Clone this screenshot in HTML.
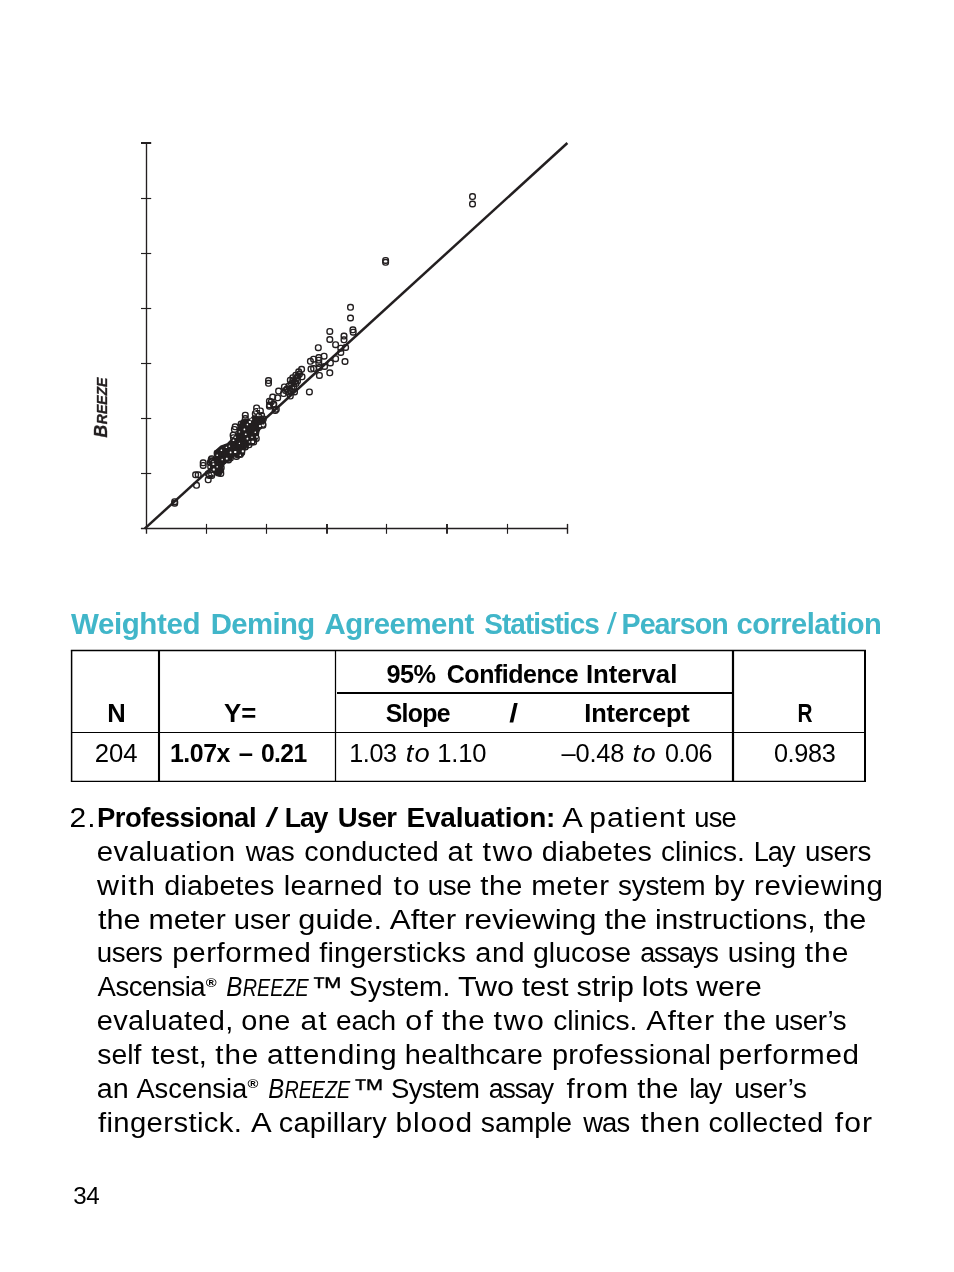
<!DOCTYPE html>
<html lang="en"><head><meta charset="utf-8"><title>Page 34</title>
<style>
html,body{margin:0;padding:0;background:#fff}
body{width:954px;height:1272px;overflow:hidden}
svg{display:block;font-family:"Liberation Sans",sans-serif;fill:#000}
text{white-space:pre}
</style></head><body>
<svg width="954" height="1272" viewBox="0 0 954 1272">
<rect width="954" height="1272" fill="#fff"/>
<!-- chart -->
<g stroke="#231f20" fill="none" stroke-width="1.15">
<path d="M146.5 143.0V533.8M140.9 528.5H567.5" stroke-width="1.35"/>
<path d="M206.5 523.9V533.8"/>
<path d="M266.5 523.9V533.8"/>
<path d="M327.0 523.9V533.8" stroke-width="1.9"/>
<path d="M386.5 523.9V533.8"/>
<path d="M447.0 523.9V533.8" stroke-width="1.9"/>
<path d="M507.5 523.9V533.8"/>
<path d="M567.5 523.9V533.8" stroke-width="1.4"/>
<path d="M141.0 473.5H151.2"/>
<path d="M141.0 418.5H151.2"/>
<path d="M141.0 363.5H151.2"/>
<path d="M141.0 308.5H151.2"/>
<path d="M141.0 253.5H151.2"/>
<path d="M141.0 198.5H151.2"/>
<path d="M141.0 143.0H151.2" stroke-width="2"/>
<path d="M144.7 528.7L567.4 143.0" stroke-width="2.5"/>
</g>
<path d="M210.1 462.1L215.1 457.9L215.1 451.2L221.0 446.1L227.7 443.6L231.9 439.4L236.9 433.5L239.4 425.2L241.9 420.1L249.5 419.3L253.7 416.8L258.7 417.6L263.7 418.4L264.6 421.8L260.4 427.7L258.7 431.9L257.9 437.7L253.7 444.4L247.0 445.3L244.4 450.3L243.6 454.5L238.6 457.9L233.5 455.3L231.0 460.4L225.2 462.1L222.6 467.1L223.5 471.3L219.3 475.5L214.3 473.8L210.9 468.8Z" fill="#231f20" stroke="#231f20" stroke-width="1.5" stroke-linejoin="round"/>
<g stroke="#231f20" fill="none" stroke-width="1.4">
<rect x="469.7" y="193.8" width="5.6" height="5.6" rx="2.3"/>
<rect x="469.7" y="201.2" width="5.6" height="5.6" rx="2.3"/>
<rect x="382.8" y="257.6" width="5.6" height="5.6" rx="2.3"/>
<rect x="382.8" y="259.5" width="5.6" height="5.6" rx="2.3"/>
<rect x="347.7" y="304.5" width="5.6" height="5.6" rx="2.3"/>
<rect x="347.7" y="315.2" width="5.6" height="5.6" rx="2.3"/>
<rect x="350.1" y="327.0" width="5.6" height="5.6" rx="2.3"/>
<rect x="350.4" y="329.4" width="5.6" height="5.6" rx="2.3"/>
<rect x="327.0" y="328.6" width="5.6" height="5.6" rx="2.3"/>
<rect x="327.0" y="336.7" width="5.6" height="5.6" rx="2.3"/>
<rect x="341.2" y="333.3" width="5.6" height="5.6" rx="2.3"/>
<rect x="341.2" y="337.0" width="5.6" height="5.6" rx="2.3"/>
<rect x="332.8" y="341.9" width="5.6" height="5.6" rx="2.3"/>
<rect x="338.0" y="345.4" width="5.6" height="5.6" rx="2.3"/>
<rect x="342.8" y="344.6" width="5.6" height="5.6" rx="2.3"/>
<rect x="338.0" y="349.6" width="5.6" height="5.6" rx="2.3"/>
<rect x="315.5" y="344.9" width="5.6" height="5.6" rx="2.3"/>
<rect x="342.2" y="358.7" width="5.6" height="5.6" rx="2.3"/>
<rect x="332.8" y="355.9" width="5.6" height="5.6" rx="2.3"/>
<rect x="321.3" y="353.4" width="5.6" height="5.6" rx="2.3"/>
<rect x="316.0" y="354.8" width="5.6" height="5.6" rx="2.3"/>
<rect x="316.0" y="357.4" width="5.6" height="5.6" rx="2.3"/>
<rect x="316.0" y="360.6" width="5.6" height="5.6" rx="2.3"/>
<rect x="310.8" y="356.4" width="5.6" height="5.6" rx="2.3"/>
<rect x="307.6" y="358.5" width="5.6" height="5.6" rx="2.3"/>
<rect x="327.6" y="360.1" width="5.6" height="5.6" rx="2.3"/>
<rect x="321.8" y="363.7" width="5.6" height="5.6" rx="2.3"/>
<rect x="308.2" y="366.3" width="5.6" height="5.6" rx="2.3"/>
<rect x="310.8" y="365.8" width="5.6" height="5.6" rx="2.3"/>
<rect x="316.6" y="364.8" width="5.6" height="5.6" rx="2.3"/>
<rect x="327.0" y="370.0" width="5.6" height="5.6" rx="2.3"/>
<rect x="316.6" y="372.6" width="5.6" height="5.6" rx="2.3"/>
<rect x="265.7" y="377.8" width="5.6" height="5.6" rx="2.3"/>
<rect x="265.7" y="380.5" width="5.6" height="5.6" rx="2.3"/>
<rect x="306.6" y="389.1" width="5.6" height="5.6" rx="2.3"/>
<rect x="298.8" y="366.5" width="5.6" height="5.6" rx="2.3"/>
<rect x="295.9" y="369.0" width="5.6" height="5.6" rx="2.3"/>
<rect x="293.0" y="372.4" width="5.6" height="5.6" rx="2.3"/>
<rect x="290.0" y="374.9" width="5.6" height="5.6" rx="2.3"/>
<rect x="287.5" y="377.4" width="5.6" height="5.6" rx="2.3"/>
<rect x="291.7" y="379.1" width="5.6" height="5.6" rx="2.3"/>
<rect x="299.2" y="374.0" width="5.6" height="5.6" rx="2.3"/>
<rect x="290.9" y="384.1" width="5.6" height="5.6" rx="2.3"/>
<rect x="281.6" y="384.1" width="5.6" height="5.6" rx="2.3"/>
<rect x="287.5" y="387.5" width="5.6" height="5.6" rx="2.3"/>
<rect x="291.7" y="389.1" width="5.6" height="5.6" rx="2.3"/>
<rect x="275.8" y="388.3" width="5.6" height="5.6" rx="2.3"/>
<rect x="280.8" y="390.8" width="5.6" height="5.6" rx="2.3"/>
<rect x="287.5" y="393.3" width="5.6" height="5.6" rx="2.3"/>
<rect x="269.9" y="394.2" width="5.6" height="5.6" rx="2.3"/>
<rect x="274.9" y="395.0" width="5.6" height="5.6" rx="2.3"/>
<rect x="266.6" y="398.4" width="5.6" height="5.6" rx="2.3"/>
<rect x="266.6" y="403.4" width="5.6" height="5.6" rx="2.3"/>
<rect x="270.7" y="401.7" width="5.6" height="5.6" rx="2.3"/>
<rect x="272.4" y="407.6" width="5.6" height="5.6" rx="2.3"/>
<rect x="293.7" y="375.7" width="5.6" height="5.6" rx="2.3"/>
<rect x="295.2" y="373.2" width="5.6" height="5.6" rx="2.3"/>
<rect x="288.7" y="380.7" width="5.6" height="5.6" rx="2.3"/>
<rect x="286.2" y="383.2" width="5.6" height="5.6" rx="2.3"/>
<rect x="284.2" y="386.2" width="5.6" height="5.6" rx="2.3"/>
<rect x="290.2" y="378.2" width="5.6" height="5.6" rx="2.3"/>
<rect x="296.7" y="371.2" width="5.6" height="5.6" rx="2.3"/>
<rect x="293.2" y="380.7" width="5.6" height="5.6" rx="2.3"/>
<rect x="289.2" y="385.7" width="5.6" height="5.6" rx="2.3"/>
<rect x="285.2" y="389.2" width="5.6" height="5.6" rx="2.3"/>
<rect x="282.7" y="387.7" width="5.6" height="5.6" rx="2.3"/>
<rect x="294.7" y="378.2" width="5.6" height="5.6" rx="2.3"/>
<rect x="171.9" y="498.9" width="5.6" height="5.6" rx="2.3"/>
<rect x="171.9" y="500.4" width="5.6" height="5.6" rx="2.3"/>
<rect x="193.7" y="482.5" width="5.6" height="5.6" rx="2.3"/>
<rect x="192.8" y="472.0" width="5.6" height="5.6" rx="2.3"/>
<rect x="195.4" y="472.0" width="5.6" height="5.6" rx="2.3"/>
<rect x="200.4" y="460.0" width="5.6" height="5.6" rx="2.3"/>
<rect x="200.4" y="462.6" width="5.6" height="5.6" rx="2.3"/>
<rect x="208.4" y="456.9" width="5.6" height="5.6" rx="2.3"/>
<rect x="205.4" y="477.0" width="5.6" height="5.6" rx="2.3"/>
<rect x="206.7" y="472.8" width="5.6" height="5.6" rx="2.3"/>
<rect x="209.2" y="470.7" width="5.6" height="5.6" rx="2.3"/>
<rect x="242.5" y="412.4" width="5.6" height="5.6" rx="2.3"/>
<rect x="242.5" y="415.7" width="5.6" height="5.6" rx="2.3"/>
<rect x="253.8" y="405.1" width="5.6" height="5.6" rx="2.3"/>
<rect x="253.8" y="408.6" width="5.6" height="5.6" rx="2.3"/>
<rect x="252.5" y="411.0" width="5.6" height="5.6" rx="2.3"/>
<rect x="257.6" y="408.1" width="5.6" height="5.6" rx="2.3"/>
<rect x="258.8" y="412.7" width="5.6" height="5.6" rx="2.3"/>
<rect x="255.9" y="414.0" width="5.6" height="5.6" rx="2.3"/>
<rect x="232.4" y="424.0" width="5.6" height="5.6" rx="2.3"/>
<rect x="231.6" y="426.6" width="5.6" height="5.6" rx="2.3"/>
<rect x="230.3" y="432.4" width="5.6" height="5.6" rx="2.3"/>
<rect x="230.7" y="434.9" width="5.6" height="5.6" rx="2.3"/>
<rect x="260.1" y="422.4" width="5.6" height="5.6" rx="2.3"/>
<rect x="208.9" y="455.9" width="5.6" height="5.6" rx="2.3"/>
<rect x="208.9" y="458.4" width="5.6" height="5.6" rx="2.3"/>
<rect x="232.4" y="449.6" width="5.6" height="5.6" rx="2.3"/>
<rect x="239.1" y="447.5" width="5.6" height="5.6" rx="2.3"/>
<rect x="237.5" y="451.7" width="5.6" height="5.6" rx="2.3"/>
<rect x="225.7" y="457.2" width="5.6" height="5.6" rx="2.3"/>
<rect x="250.9" y="439.1" width="5.6" height="5.6" rx="2.3"/>
<rect x="245.8" y="438.3" width="5.6" height="5.6" rx="2.3"/>
<rect x="208.9" y="472.7" width="5.6" height="5.6" rx="2.3"/>
<rect x="205.6" y="471.0" width="5.6" height="5.6" rx="2.3"/>
<rect x="266.8" y="402.2" width="5.6" height="5.6" rx="2.3"/>
<rect x="271.0" y="401.4" width="5.6" height="5.6" rx="2.3"/>
<rect x="273.5" y="406.4" width="5.6" height="5.6" rx="2.3"/>
<rect x="268.5" y="398.9" width="5.6" height="5.6" rx="2.3"/>
<rect x="230.7" y="446.4" width="5.6" height="5.6" rx="2.3"/>
<rect x="234.2" y="448.3" width="5.6" height="5.6" rx="2.3"/>
<rect x="207.9" y="463.9" width="5.6" height="5.6" rx="2.3"/>
<rect x="234.9" y="452.0" width="5.6" height="5.6" rx="2.3"/>
<rect x="233.7" y="453.6" width="5.6" height="5.6" rx="2.3"/>
<rect x="250.5" y="435.2" width="5.6" height="5.6" rx="2.3"/>
<rect x="251.2" y="426.1" width="5.6" height="5.6" rx="2.3"/>
<rect x="252.4" y="419.6" width="5.6" height="5.6" rx="2.3"/>
<rect x="237.4" y="438.5" width="5.6" height="5.6" rx="2.3"/>
<rect x="214.2" y="458.4" width="5.6" height="5.6" rx="2.3"/>
<rect x="250.9" y="430.2" width="5.6" height="5.6" rx="2.3"/>
<rect x="217.5" y="449.3" width="5.6" height="5.6" rx="2.3"/>
<rect x="217.2" y="456.5" width="5.6" height="5.6" rx="2.3"/>
<rect x="218.4" y="464.9" width="5.6" height="5.6" rx="2.3"/>
<rect x="239.8" y="427.7" width="5.6" height="5.6" rx="2.3"/>
<rect x="213.3" y="457.6" width="5.6" height="5.6" rx="2.3"/>
<rect x="240.9" y="426.8" width="5.6" height="5.6" rx="2.3"/>
<rect x="260.0" y="421.5" width="5.6" height="5.6" rx="2.3"/>
<rect x="224.4" y="455.2" width="5.6" height="5.6" rx="2.3"/>
<rect x="241.6" y="434.0" width="5.6" height="5.6" rx="2.3"/>
<rect x="238.9" y="449.8" width="5.6" height="5.6" rx="2.3"/>
<rect x="248.1" y="434.4" width="5.6" height="5.6" rx="2.3"/>
<rect x="207.5" y="459.7" width="5.6" height="5.6" rx="2.3"/>
<rect x="246.2" y="442.0" width="5.6" height="5.6" rx="2.3"/>
<rect x="221.2" y="454.7" width="5.6" height="5.6" rx="2.3"/>
<rect x="222.8" y="453.8" width="5.6" height="5.6" rx="2.3"/>
<rect x="238.9" y="429.4" width="5.6" height="5.6" rx="2.3"/>
<rect x="241.6" y="441.8" width="5.6" height="5.6" rx="2.3"/>
<rect x="254.5" y="423.8" width="5.6" height="5.6" rx="2.3"/>
<rect x="241.8" y="438.5" width="5.6" height="5.6" rx="2.3"/>
<rect x="245.3" y="421.2" width="5.6" height="5.6" rx="2.3"/>
<rect x="247.2" y="419.7" width="5.6" height="5.6" rx="2.3"/>
<rect x="225.9" y="447.0" width="5.6" height="5.6" rx="2.3"/>
<rect x="243.2" y="421.5" width="5.6" height="5.6" rx="2.3"/>
<rect x="215.6" y="470.2" width="5.6" height="5.6" rx="2.3"/>
<rect x="252.6" y="419.3" width="5.6" height="5.6" rx="2.3"/>
<rect x="220.5" y="458.2" width="5.6" height="5.6" rx="2.3"/>
<rect x="242.4" y="443.8" width="5.6" height="5.6" rx="2.3"/>
<rect x="215.3" y="466.8" width="5.6" height="5.6" rx="2.3"/>
<rect x="238.3" y="421.3" width="5.6" height="5.6" rx="2.3"/>
<rect x="236.0" y="442.4" width="5.6" height="5.6" rx="2.3"/>
<rect x="237.7" y="441.6" width="5.6" height="5.6" rx="2.3"/>
<rect x="236.1" y="436.2" width="5.6" height="5.6" rx="2.3"/>
<rect x="214.3" y="450.5" width="5.6" height="5.6" rx="2.3"/>
<rect x="260.5" y="416.3" width="5.6" height="5.6" rx="2.3"/>
<rect x="245.5" y="429.7" width="5.6" height="5.6" rx="2.3"/>
<rect x="224.6" y="450.6" width="5.6" height="5.6" rx="2.3"/>
<rect x="208.8" y="458.4" width="5.6" height="5.6" rx="2.3"/>
<rect x="235.6" y="437.8" width="5.6" height="5.6" rx="2.3"/>
<rect x="215.1" y="451.4" width="5.6" height="5.6" rx="2.3"/>
<rect x="242.4" y="444.3" width="5.6" height="5.6" rx="2.3"/>
<rect x="256.2" y="423.5" width="5.6" height="5.6" rx="2.3"/>
<rect x="258.1" y="416.6" width="5.6" height="5.6" rx="2.3"/>
<rect x="217.3" y="458.1" width="5.6" height="5.6" rx="2.3"/>
<rect x="252.0" y="416.0" width="5.6" height="5.6" rx="2.3"/>
<rect x="227.6" y="455.2" width="5.6" height="5.6" rx="2.3"/>
<rect x="237.0" y="443.2" width="5.6" height="5.6" rx="2.3"/>
<rect x="234.7" y="437.3" width="5.6" height="5.6" rx="2.3"/>
<rect x="248.8" y="435.6" width="5.6" height="5.6" rx="2.3"/>
<rect x="241.9" y="435.5" width="5.6" height="5.6" rx="2.3"/>
<rect x="240.0" y="442.5" width="5.6" height="5.6" rx="2.3"/>
<rect x="253.5" y="435.6" width="5.6" height="5.6" rx="2.3"/>
<rect x="250.4" y="435.6" width="5.6" height="5.6" rx="2.3"/>
<rect x="244.2" y="430.8" width="5.6" height="5.6" rx="2.3"/>
<rect x="235.8" y="434.5" width="5.6" height="5.6" rx="2.3"/>
<rect x="218.0" y="470.6" width="5.6" height="5.6" rx="2.3"/>
<rect x="236.9" y="442.7" width="5.6" height="5.6" rx="2.3"/>
<rect x="235.4" y="449.0" width="5.6" height="5.6" rx="2.3"/>
<rect x="220.1" y="457.4" width="5.6" height="5.6" rx="2.3"/>
<rect x="212.1" y="460.0" width="5.6" height="5.6" rx="2.3"/>
</g>
<g fill="#fff">
<rect x="248.9" y="421.0" width="2.0" height="2.0" rx="0.5"/>
<rect x="246.7" y="423.8" width="1.4" height="1.4" rx="0.5"/>
<rect x="243.6" y="428.6" width="1.6" height="1.6" rx="0.5"/>
<rect x="244.9" y="433.4" width="1.6" height="1.6" rx="0.5"/>
<rect x="238.7" y="431.2" width="1.4" height="1.4" rx="0.5"/>
<rect x="234.5" y="436.6" width="1.4" height="1.4" rx="0.5"/>
<rect x="232.7" y="439.5" width="1.6" height="1.6" rx="0.5"/>
<rect x="246.6" y="437.8" width="1.6" height="1.6" rx="0.5"/>
<rect x="248.8" y="441.2" width="1.4" height="1.4" rx="0.5"/>
<rect x="251.6" y="440.7" width="2.4" height="2.4" rx="0.5"/>
<rect x="254.6" y="431.6" width="1.4" height="1.4" rx="0.5"/>
<rect x="256.2" y="436.1" width="1.6" height="1.6" rx="0.5"/>
<rect x="251.3" y="436.6" width="1.4" height="1.4" rx="0.5"/>
<rect x="238.8" y="442.8" width="1.2" height="1.2" rx="0.5"/>
<rect x="228.7" y="445.4" width="1.4" height="1.4" rx="0.5"/>
<rect x="225.7" y="446.7" width="1.4" height="1.4" rx="0.5"/>
<rect x="220.7" y="449.6" width="1.4" height="1.4" rx="0.5"/>
<rect x="216.5" y="454.6" width="1.4" height="1.4" rx="0.5"/>
<rect x="229.8" y="451.6" width="1.6" height="1.6" rx="0.5"/>
<rect x="239.6" y="454.6" width="1.4" height="1.4" rx="0.5"/>
<rect x="221.5" y="458.8" width="1.4" height="1.4" rx="0.5"/>
<rect x="225.9" y="457.8" width="1.8" height="1.8" rx="0.5"/>
<rect x="212.3" y="460.9" width="1.4" height="1.4" rx="0.5"/>
<rect x="212.5" y="463.3" width="1.8" height="1.8" rx="0.5"/>
<rect x="216.5" y="466.0" width="1.4" height="1.4" rx="0.5"/>
<rect x="212.8" y="468.6" width="2.0" height="2.0" rx="0.5"/>
<rect x="211.8" y="473.0" width="1.6" height="1.6" rx="0.5"/>
<rect x="209.3" y="473.4" width="1.6" height="1.6" rx="0.5"/>
<rect x="259.1" y="425.1" width="1.8" height="1.8" rx="0.5"/>
<rect x="261.7" y="424.4" width="1.6" height="1.6" rx="0.5"/>
<rect x="257.1" y="414.3" width="1.6" height="1.6" rx="0.5"/>
<rect x="254.2" y="410.2" width="1.4" height="1.4" rx="0.5"/>
<rect x="257.9" y="408.4" width="1.6" height="1.6" rx="0.5"/>
<rect x="250.3" y="418.4" width="1.8" height="1.8" rx="0.5"/>
<rect x="234.1" y="450.9" width="2.2" height="2.2" rx="0.5"/>
<rect x="241.8" y="450.2" width="2.0" height="2.0" rx="0.5"/>
</g>
<g transform="translate(107.3 437.6) rotate(-90)" font-weight="bold" font-style="italic" fill="#231f20" stroke="#231f20" stroke-width="0.35"><text x="0" y="0" font-size="17.5" textLength="12.6" lengthAdjust="spacingAndGlyphs">B</text><text x="13.4" y="0" font-size="14" textLength="46.6" lengthAdjust="spacingAndGlyphs">REEZE</text></g>
<!-- table -->
<g stroke="#000" fill="none">
<path d="M70.85 650.5H866" stroke-width="1.4"/>
<path d="M71.6 732.5H865" stroke-width="1.15"/>
<path d="M70.85 781.3H866" stroke-width="1.2"/>
<path d="M71.6 650.5V781.3" stroke-width="1.5"/>
<path d="M159 650.5V781.3" stroke-width="2.1"/>
<path d="M335.5 650.5V781.3" stroke-width="1.25"/>
<path d="M733 650.5V781.3" stroke-width="2.2"/>
<path d="M865 650.5V781.3" stroke-width="2"/>
<path d="M337 693H733" stroke-width="2.05"/>
</g>
<!-- text -->
<text y="633.70" font-size="30.2" font-weight="bold" fill="#41b6c9"><tspan x="71.00" textLength="129.05" lengthAdjust="spacingAndGlyphs" letter-spacing="-0.42">Weighted</tspan> <tspan x="210.69" textLength="103.98" lengthAdjust="spacingAndGlyphs" letter-spacing="-0.61">Deming</tspan> <tspan x="324.46" textLength="149.25" lengthAdjust="spacingAndGlyphs" letter-spacing="-0.51">Agreement</tspan> <tspan x="484.36" textLength="114.40" lengthAdjust="spacingAndGlyphs" letter-spacing="-1.08">Statistics</tspan> <tspan x="606.80" textLength="10.12" lengthAdjust="spacingAndGlyphs" font-weight="normal">/</tspan> <tspan x="621.54" textLength="106.15" lengthAdjust="spacingAndGlyphs" letter-spacing="-1.02">Pearson</tspan> <tspan x="736.53" textLength="144.78" lengthAdjust="spacingAndGlyphs" letter-spacing="-0.54">correlation</tspan></text>
<text y="683.30" font-size="25.8" font-weight="bold"><tspan x="386.41" textLength="49.17" lengthAdjust="spacingAndGlyphs" letter-spacing="-0.49">95%</tspan> <tspan x="446.80" textLength="131.27" lengthAdjust="spacingAndGlyphs" letter-spacing="-0.49">Confidence</tspan> <tspan x="585.93" textLength="91.38" lengthAdjust="spacingAndGlyphs" letter-spacing="-0.03">Interval</tspan></text>
<text y="722.00" font-size="25.8" font-weight="bold"><tspan x="107.24" textLength="18.48" lengthAdjust="spacingAndGlyphs">N</tspan> <tspan x="224.01" textLength="32.23" lengthAdjust="spacingAndGlyphs" letter-spacing="-0.02">Y=</tspan> <tspan x="385.66" textLength="64.32" lengthAdjust="spacingAndGlyphs" letter-spacing="-0.67">Slope</tspan> <tspan x="509.28" textLength="8.76" lengthAdjust="spacingAndGlyphs">/</tspan> <tspan x="584.35" textLength="105.27" lengthAdjust="spacingAndGlyphs" letter-spacing="-0.22">Intercept</tspan> <tspan x="797.45" textLength="15.01" lengthAdjust="spacingAndGlyphs">R</tspan></text>
<text y="762.10" font-size="25.8"><tspan x="94.71" textLength="42.76" lengthAdjust="spacingAndGlyphs" letter-spacing="-0.06">204</tspan> <tspan x="170.00" textLength="59.88" lengthAdjust="spacingAndGlyphs" letter-spacing="-0.52" font-weight="bold">1.07x</tspan> <tspan x="238.83" textLength="14.27" lengthAdjust="spacingAndGlyphs" font-weight="bold">–</tspan> <tspan x="260.91" textLength="45.60" lengthAdjust="spacingAndGlyphs" letter-spacing="-0.66" font-weight="bold">0.21</tspan> <tspan x="349.21" textLength="47.45" lengthAdjust="spacingAndGlyphs" letter-spacing="-0.39">1.03</tspan> <tspan x="405.67" textLength="25.25" lengthAdjust="spacingAndGlyphs" letter-spacing="1.16" font-style="italic">to</tspan> <tspan x="437.28" textLength="49.09" lengthAdjust="spacingAndGlyphs" letter-spacing="-0.16">1.10</tspan> <tspan x="561.60" textLength="62.45" lengthAdjust="spacingAndGlyphs" letter-spacing="-0.24">–0.48</tspan> <tspan x="632.60" textLength="23.84" lengthAdjust="spacingAndGlyphs" letter-spacing="0.73" font-style="italic">to</tspan> <tspan x="664.90" textLength="46.99" lengthAdjust="spacingAndGlyphs" letter-spacing="-0.46">0.06</tspan> <tspan x="773.89" textLength="61.67" lengthAdjust="spacingAndGlyphs" letter-spacing="-0.32">0.983</tspan></text>
<text y="827.00" font-size="28.4"><tspan x="69.50" textLength="27.33" lengthAdjust="spacingAndGlyphs" letter-spacing="1.10">2.</tspan> <tspan x="97.01" textLength="159.05" lengthAdjust="spacingAndGlyphs" letter-spacing="-0.50" font-weight="bold">Professional</tspan> <tspan x="265.60" textLength="12.90" lengthAdjust="spacingAndGlyphs">/</tspan> <tspan x="284.86" textLength="42.16" lengthAdjust="spacingAndGlyphs" letter-spacing="-1.38" font-weight="bold">Lay</tspan> <tspan x="337.75" textLength="58.71" lengthAdjust="spacingAndGlyphs" letter-spacing="-0.64" font-weight="bold">User</tspan> <tspan x="406.48" textLength="148.78" lengthAdjust="spacingAndGlyphs" letter-spacing="-0.20" font-weight="bold">Evaluation:</tspan> <tspan x="562.30" textLength="18.86" lengthAdjust="spacingAndGlyphs">A</tspan> <tspan x="589.34" textLength="96.67" lengthAdjust="spacingAndGlyphs" letter-spacing="0.84">patient</tspan> <tspan x="694.22" textLength="41.76" lengthAdjust="spacingAndGlyphs" letter-spacing="-0.80">use</tspan></text>
<text y="860.84" font-size="28.4"><tspan x="96.72" textLength="138.96" lengthAdjust="spacingAndGlyphs" letter-spacing="0.48">evaluation</tspan> <tspan x="245.70" textLength="48.67" lengthAdjust="spacingAndGlyphs" letter-spacing="-0.37">was</tspan> <tspan x="304.25" textLength="134.68" lengthAdjust="spacingAndGlyphs" letter-spacing="0.21">conducted</tspan> <tspan x="447.63" textLength="25.69" lengthAdjust="spacingAndGlyphs" letter-spacing="0.64">at</tspan> <tspan x="482.64" textLength="51.98" lengthAdjust="spacingAndGlyphs" letter-spacing="1.47">two</tspan> <tspan x="541.85" textLength="110.38" lengthAdjust="spacingAndGlyphs" letter-spacing="0.20">diabetes</tspan> <tspan x="661.07" textLength="83.74" lengthAdjust="spacingAndGlyphs" letter-spacing="-0.10">clinics.</tspan> <tspan x="753.63" textLength="40.89" lengthAdjust="spacingAndGlyphs" letter-spacing="-0.99">Lay</tspan> <tspan x="805.00" textLength="65.90" lengthAdjust="spacingAndGlyphs" letter-spacing="-0.39">users</tspan></text>
<text y="894.68" font-size="28.4"><tspan x="97.00" textLength="59.25" lengthAdjust="spacingAndGlyphs" letter-spacing="1.18">with</tspan> <tspan x="164.35" textLength="110.17" lengthAdjust="spacingAndGlyphs" letter-spacing="0.18">diabetes</tspan> <tspan x="283.71" textLength="99.20" lengthAdjust="spacingAndGlyphs" letter-spacing="0.33">learned</tspan> <tspan x="393.55" textLength="27.16" lengthAdjust="spacingAndGlyphs" letter-spacing="1.10">to</tspan> <tspan x="427.69" textLength="43.55" lengthAdjust="spacingAndGlyphs" letter-spacing="-0.44">use</tspan> <tspan x="480.16" textLength="43.03" lengthAdjust="spacingAndGlyphs" letter-spacing="0.68">the</tspan> <tspan x="531.19" textLength="78.39" lengthAdjust="spacingAndGlyphs" letter-spacing="0.62">meter</tspan> <tspan x="618.00" textLength="87.30" lengthAdjust="spacingAndGlyphs" letter-spacing="-0.24">system</tspan> <tspan x="713.93" textLength="31.05" lengthAdjust="spacingAndGlyphs" letter-spacing="0.34">by</tspan> <tspan x="754.09" textLength="129.42" lengthAdjust="spacingAndGlyphs" letter-spacing="0.54">reviewing</tspan></text>
<text y="928.52" font-size="28.4"><tspan x="97.97" textLength="42.59" lengthAdjust="spacingAndGlyphs">the</tspan> <tspan x="148.46" textLength="77.32" lengthAdjust="spacingAndGlyphs">meter</tspan> <tspan x="233.67" textLength="56.79" lengthAdjust="spacingAndGlyphs">user</tspan> <tspan x="298.35" textLength="83.62" lengthAdjust="spacingAndGlyphs">guide.</tspan> <tspan x="389.86" textLength="66.24" lengthAdjust="spacingAndGlyphs">After</tspan> <tspan x="463.99" textLength="132.54" lengthAdjust="spacingAndGlyphs">reviewing</tspan> <tspan x="604.43" textLength="42.59" lengthAdjust="spacingAndGlyphs">the</tspan> <tspan x="654.91" textLength="160.85" lengthAdjust="spacingAndGlyphs">instructions,</tspan> <tspan x="823.65" textLength="42.59" lengthAdjust="spacingAndGlyphs">the</tspan></text>
<text y="962.36" font-size="28.4"><tspan x="96.80" textLength="65.67" lengthAdjust="spacingAndGlyphs" letter-spacing="-0.42">users</tspan> <tspan x="172.39" textLength="138.91" lengthAdjust="spacingAndGlyphs" letter-spacing="0.54">performed</tspan> <tspan x="319.27" textLength="146.79" lengthAdjust="spacingAndGlyphs" letter-spacing="0.20">fingersticks</tspan> <tspan x="475.34" textLength="49.77" lengthAdjust="spacingAndGlyphs" letter-spacing="0.46">and</tspan> <tspan x="533.06" textLength="97.93" lengthAdjust="spacingAndGlyphs">glucose</tspan> <tspan x="640.13" textLength="77.96" lengthAdjust="spacingAndGlyphs" letter-spacing="-0.97">assays</tspan> <tspan x="727.65" textLength="68.44" lengthAdjust="spacingAndGlyphs" letter-spacing="0.06">using</tspan> <tspan x="804.65" textLength="44.95" lengthAdjust="spacingAndGlyphs" letter-spacing="1.04">the</tspan></text>
<text y="996.20" font-size="28.4"><tspan x="97.60" textLength="107.57" lengthAdjust="spacingAndGlyphs" letter-spacing="-0.52">Ascensia</tspan> <tspan x="205.68" textLength="10.90" lengthAdjust="spacingAndGlyphs" font-size="13.5" font-weight="bold" y="986.60">®</tspan> <tspan x="226.28" textLength="16.10" lengthAdjust="spacingAndGlyphs" font-style="italic" y="996.20">B</tspan> <tspan x="242.71" textLength="65.98" lengthAdjust="spacingAndGlyphs" font-style="italic" font-size="23">REEZE</tspan> <tspan x="310.71" textLength="32.12" lengthAdjust="spacingAndGlyphs" stroke="#000" stroke-width="0.2" y="997.20">™</tspan> <tspan y="996.20" x="349.02" textLength="101.24" lengthAdjust="spacingAndGlyphs">System.</tspan> <tspan x="458.06" textLength="56.06" lengthAdjust="spacingAndGlyphs">Two</tspan> <tspan x="521.91" textLength="46.70" lengthAdjust="spacingAndGlyphs">test</tspan> <tspan x="576.40" textLength="57.60" lengthAdjust="spacingAndGlyphs">strip</tspan> <tspan x="641.80" textLength="46.70" lengthAdjust="spacingAndGlyphs">lots</tspan> <tspan x="696.29" textLength="65.42" lengthAdjust="spacingAndGlyphs">were</tspan></text>
<text y="1030.04" font-size="28.4"><tspan x="96.84" textLength="136.66" lengthAdjust="spacingAndGlyphs" letter-spacing="0.29">evaluated,</tspan> <tspan x="241.35" textLength="49.29" lengthAdjust="spacingAndGlyphs" letter-spacing="0.37">one</tspan> <tspan x="300.40" textLength="27.40" lengthAdjust="spacingAndGlyphs" letter-spacing="1.17">at</tspan> <tspan x="336.08" textLength="59.91" lengthAdjust="spacingAndGlyphs" letter-spacing="-0.24">each</tspan> <tspan x="405.27" textLength="29.43" lengthAdjust="spacingAndGlyphs" letter-spacing="1.79">of</tspan> <tspan x="442.06" textLength="43.54" lengthAdjust="spacingAndGlyphs" letter-spacing="0.78">the</tspan> <tspan x="493.54" textLength="51.85" lengthAdjust="spacingAndGlyphs" letter-spacing="1.45">two</tspan> <tspan x="553.27" textLength="83.96" lengthAdjust="spacingAndGlyphs" letter-spacing="-0.08">clinics.</tspan> <tspan x="646.20" textLength="68.99" lengthAdjust="spacingAndGlyphs" letter-spacing="0.96">After</tspan> <tspan x="723.86" textLength="43.03" lengthAdjust="spacingAndGlyphs" letter-spacing="0.68">the</tspan> <tspan x="774.41" textLength="71.81" lengthAdjust="spacingAndGlyphs" letter-spacing="-0.41">user’s</tspan></text>
<text y="1063.88" font-size="28.4"><tspan x="97.29" textLength="43.97" lengthAdjust="spacingAndGlyphs" letter-spacing="-0.03">self</tspan> <tspan x="151.37" textLength="55.75" lengthAdjust="spacingAndGlyphs" letter-spacing="0.22">test,</tspan> <tspan x="215.36" textLength="43.67" lengthAdjust="spacingAndGlyphs" letter-spacing="0.80">the</tspan> <tspan x="267.00" textLength="130.50" lengthAdjust="spacingAndGlyphs" letter-spacing="0.77">attending</tspan> <tspan x="404.77" textLength="138.39" lengthAdjust="spacingAndGlyphs" letter-spacing="0.30">healthcare</tspan> <tspan x="552.02" textLength="159.08" lengthAdjust="spacingAndGlyphs" letter-spacing="0.25">professional</tspan> <tspan x="718.48" textLength="141.29" lengthAdjust="spacingAndGlyphs" letter-spacing="0.67">performed</tspan></text>
<text y="1097.72" font-size="28.4"><tspan x="96.86" textLength="31.92" lengthAdjust="spacingAndGlyphs">an</tspan> <tspan x="136.38" textLength="110.90" lengthAdjust="spacingAndGlyphs">Ascensia</tspan> <tspan x="247.58" textLength="10.90" lengthAdjust="spacingAndGlyphs" font-size="13.5" font-weight="bold" y="1088.12">®</tspan> <tspan x="268.29" textLength="15.88" lengthAdjust="spacingAndGlyphs" font-style="italic" y="1097.72">B</tspan> <tspan x="284.41" textLength="65.88" lengthAdjust="spacingAndGlyphs" font-style="italic" font-size="23">REEZE</tspan> <tspan x="352.39" textLength="32.37" lengthAdjust="spacingAndGlyphs" stroke="#000" stroke-width="0.2" y="1098.72">™</tspan> <tspan y="1097.72" x="390.96" textLength="88.56" lengthAdjust="spacingAndGlyphs" letter-spacing="-0.56">System</tspan> <tspan x="488.84" textLength="64.04" lengthAdjust="spacingAndGlyphs" letter-spacing="-1.16">assay</tspan> <tspan x="566.46" textLength="62.48" lengthAdjust="spacingAndGlyphs" letter-spacing="0.78">from</tspan> <tspan x="637.26" textLength="41.63" lengthAdjust="spacingAndGlyphs" letter-spacing="0.42">the</tspan> <tspan x="689.34" textLength="32.11" lengthAdjust="spacingAndGlyphs" letter-spacing="-0.85">lay</tspan> <tspan x="734.30" textLength="72.15" lengthAdjust="spacingAndGlyphs" letter-spacing="-0.38">user’s</tspan></text>
<text y="1131.56" font-size="28.4"><tspan x="97.96" textLength="144.33" lengthAdjust="spacingAndGlyphs" letter-spacing="0.36">fingerstick.</tspan> <tspan x="251.00" textLength="18.96" lengthAdjust="spacingAndGlyphs">A</tspan> <tspan x="278.84" textLength="108.24" lengthAdjust="spacingAndGlyphs" letter-spacing="0.24">capillary</tspan> <tspan x="395.46" textLength="77.70" lengthAdjust="spacingAndGlyphs" letter-spacing="0.87">blood</tspan> <tspan x="480.79" textLength="91.28" lengthAdjust="spacingAndGlyphs" letter-spacing="-0.02">sample</tspan> <tspan x="583.20" textLength="46.16" lengthAdjust="spacingAndGlyphs" letter-spacing="-0.88">was</tspan> <tspan x="640.46" textLength="60.32" lengthAdjust="spacingAndGlyphs" letter-spacing="0.69">then</tspan> <tspan x="708.45" textLength="114.89" lengthAdjust="spacingAndGlyphs" letter-spacing="0.16">collected</tspan> <tspan x="834.85" textLength="38.12" lengthAdjust="spacingAndGlyphs" letter-spacing="0.95">for</tspan></text>
<text y="1204.00" font-size="24.5"><tspan x="73.24" textLength="26.03" lengthAdjust="spacingAndGlyphs" letter-spacing="-0.40">34</tspan></text>
</svg>
</body></html>
